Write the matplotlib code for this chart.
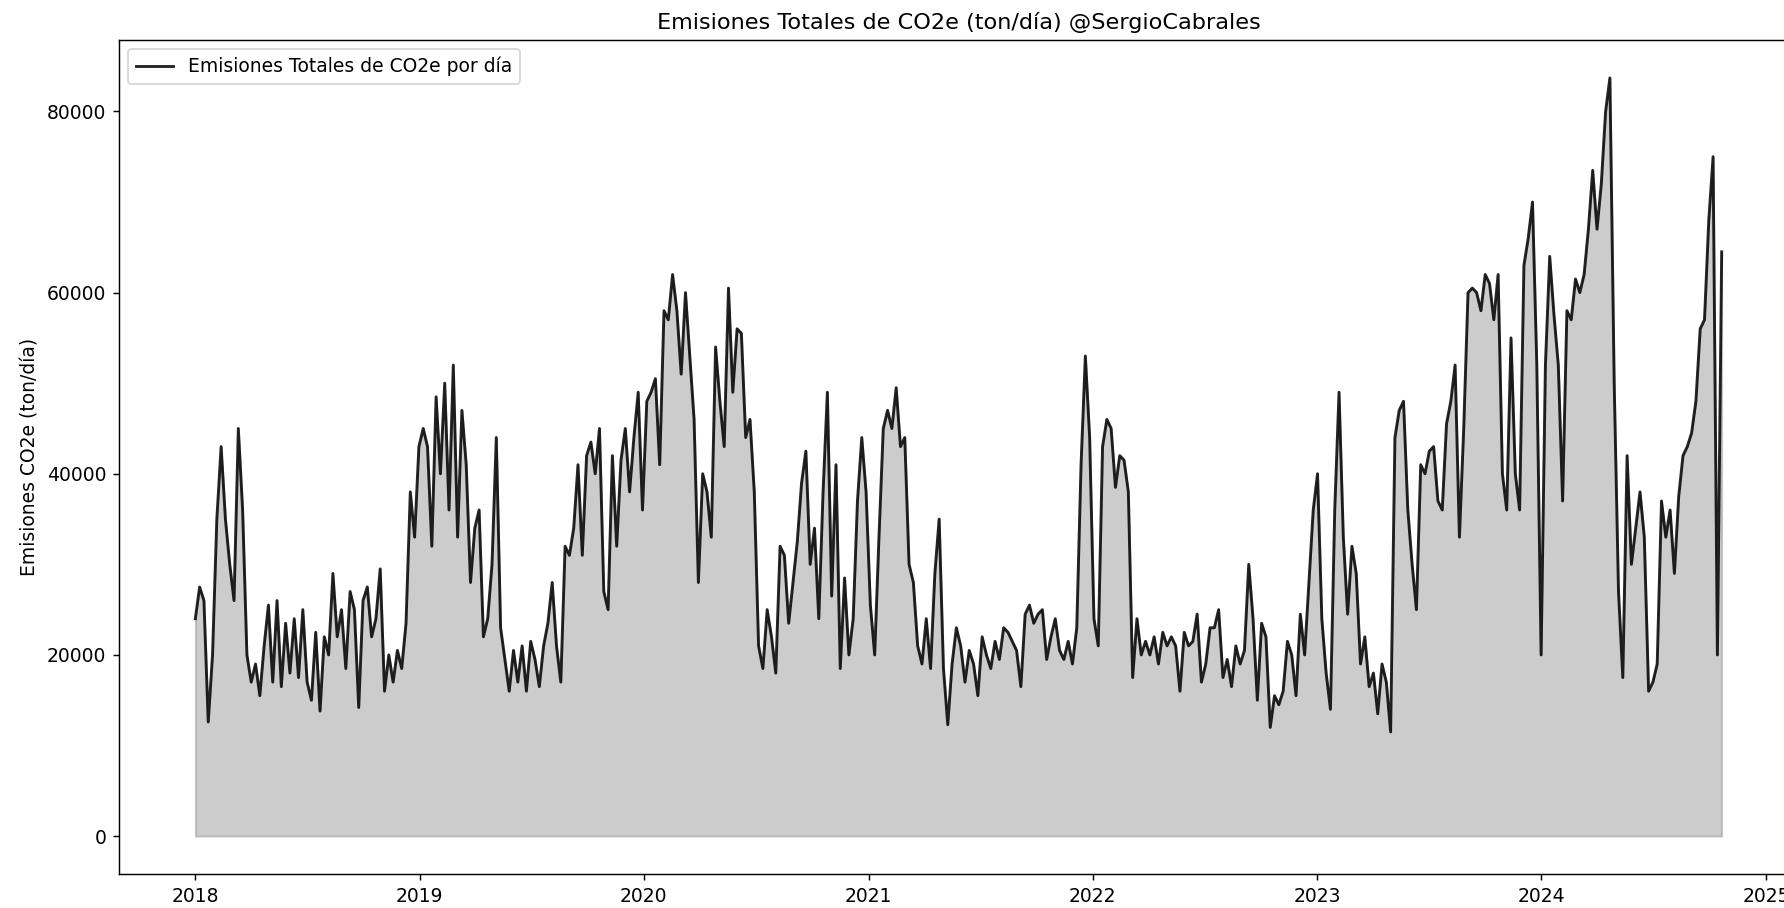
import numpy as np
import pandas as pd
import matplotlib
matplotlib.use('Agg')
import matplotlib.pyplot as plt

# weekly readings (ton/dia), one list per year, starting 2018-01-01
e2018 = [24000, 27500, 26000, 12600, 20000, 35000, 43000, 35000, 30000, 26000,
         45000, 36000, 20000, 17000, 19000, 15500, 21000, 25500, 17000, 26000,
         16500, 23500, 18000, 24000, 17500, 25000, 17000, 15000, 22500, 13800,
         22000, 20000, 29000, 22000, 25000, 18500, 27000, 25000, 14200, 26000,
         27500, 22000, 24000, 29500, 16000, 20000, 17000, 20500, 18500, 23500,
         38000, 33000]
e2019 = [43000, 45000, 43000, 32000, 48500, 40000, 50000, 36000, 52000, 33000,
         47000, 41000, 28000, 34000, 36000, 22000, 24000, 30000, 44000, 23000,
         19500, 16000, 20500, 17000, 21000, 16000, 21500, 19500, 16500, 21000,
         23500, 28000, 21000, 17000, 32000, 31000, 34000, 41000, 31000, 42000,
         43500, 40000, 45000, 27000, 25000, 42000, 32000, 41500, 45000, 38000,
         44000, 49000]
e2020 = [36000, 48000, 49000, 50500, 41000, 58000, 57000, 62000, 58000, 51000,
         60000, 53000, 46000, 28000, 40000, 38000, 33000, 54000, 48000, 43000,
         60500, 49000, 56000, 55500, 44000, 46000, 38000, 21000, 18500, 25000,
         22000, 18000, 32000, 31000, 23500, 28000, 32500, 39000, 42500, 30000,
         34000, 24000, 38000, 49000, 26500, 41000, 18500, 28500, 20000, 24000,
         37000, 44000]
e2021 = [38000, 25500, 20000, 33000, 45000, 47000, 45000, 49500, 43000, 44000,
         30000, 28000, 21000, 19000, 24000, 18500, 29000, 35000, 18500, 12300,
         19000, 23000, 21000, 17000, 20500, 19000, 15500, 22000, 20000, 18500,
         21500, 19500, 23000, 22500, 21500, 20500, 16500, 24500, 25500, 23500,
         24500, 25000, 19500, 22000, 24000, 20500, 19500, 21500, 19000, 23000,
         41000, 53000]
e2022 = [44000, 24000, 21000, 43000, 46000, 45000, 38500, 42000, 41500, 38000,
         17500, 24000, 20000, 21500, 20000, 22000, 19000, 22500, 21000, 22000,
         21000, 16000, 22500, 21000, 21500, 24500, 17000, 19000, 23000, 23000,
         25000, 17500, 19500, 16500, 21000, 19000, 20500, 30000, 24000, 15000,
         23500, 22000, 12000, 15500, 14500, 16000, 21500, 20000, 15500, 24500,
         20000, 28000]
e2023 = [36000, 40000, 24000, 18000, 14000, 36000, 49000, 33000, 24500, 32000,
         29000, 19000, 22000, 16500, 18000, 13500, 19000, 17000, 11500, 44000,
         47000, 48000, 36000, 30000, 25000, 41000, 40000, 42500, 43000, 37000,
         36000, 45500, 48000, 52000, 33000, 45000, 60000, 60500, 60000, 58000,
         62000, 61000, 57000, 62000, 40000, 36000, 55000, 40000, 36000, 63000,
         66000, 70000]
e2024 = [52000, 20000, 52000, 64000, 57500, 52000, 37000, 58000, 57000, 61500,
         60000, 62000, 67000, 73500, 67000, 72000, 80000, 83700, 50000, 27000,
         17500, 42000, 30000, 34000, 38000, 33000, 16000, 17000, 19000, 37000,
         33000, 36000, 29000, 37500, 42000, 43000, 44500, 48000, 56000, 57000,
         68000, 75000, 20000, 64500]

valores = np.array(e2018 + e2019 + e2020 + e2021 + e2022 + e2023 + e2024)
fechas = pd.date_range('2018-01-01', periods=len(valores), freq='7D')

plt.rcParams['font.size'] = 10.4

fig = plt.figure(figsize=(1784/130, 908/130), dpi=130)
ax = fig.add_axes([119/1784, 34/908, 1679/1784, 834/908])

ax.plot(fechas, valores, color='black', alpha=0.85, linewidth=1.6,
        label='Emisiones Totales de CO2e por día')
ax.fill_between(fechas, valores, color='gray', alpha=0.4)

ax.set_title('Emisiones Totales de CO2e (ton/día) @SergioCabrales', fontsize=12.4)
ax.set_ylabel('Emisiones CO2e (ton/día)')
ax.legend(loc='upper left')

fig.savefig('out.png', dpi=130)
